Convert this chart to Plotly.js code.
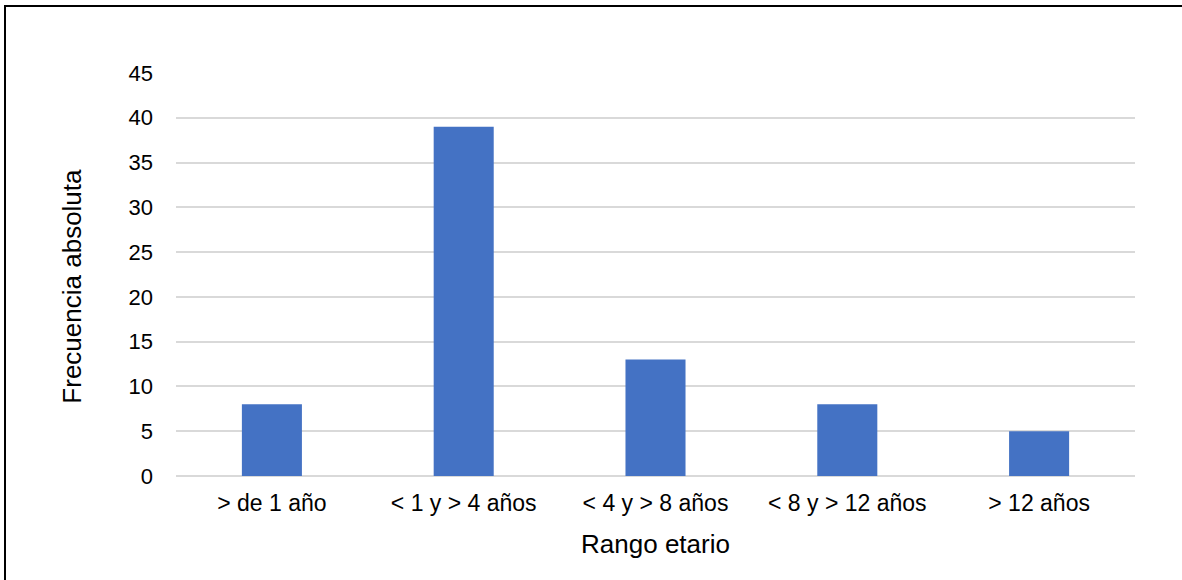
<!DOCTYPE html>
<html>
<head>
<meta charset="utf-8">
<script src="https://cdn.plot.ly/plotly-3.0.1.min.js"></script>
<style>
  html, body { margin: 0; padding: 0; background: #ffffff; }
  #wrap { position: relative; width: 1182px; height: 580px; overflow: hidden; }
  #chart { width: 1182px; height: 580px; }
  #frame { position: absolute; left: 4px; top: 5px; width: 1300px; height: 700px;
           border-top: 2px solid #000; border-left: 2px solid #000; pointer-events: none; }
</style>
</head>
<body>
<div id="wrap">
  <div id="chart"></div>
  <div id="frame"></div>
</div>
<script>
const categories = ["> de 1 año", "< 1 y > 4 años", "< 4 y > 8 años", "< 8 y > 12 años", "> 12 años"];
const frecuencia = [8, 39, 13, 8, 5];
const yTicks = [0, 5, 10, 15, 20, 25, 30, 35, 40, 45];
const yTitle = "Frecuencia absoluta";
const xTitle = "Rango etario";

const fontFam = "Liberation Sans, Arial, sans-serif";

const trace = {
  type: "bar",
  x: categories,
  y: frecuencia,
  marker: { color: "#4472C4", line: { width: 0 } },
  hoverinfo: "x+y"
};

const layout = {
  width: 1182,
  height: 580,
  margin: { l: 176, r: 47, t: 73, b: 104 },
  paper_bgcolor: "#ffffff",
  plot_bgcolor: "#ffffff",
  bargap: 0.687,
  showlegend: false,
  font: { family: fontFam, color: "#000000", size: 22 },
  xaxis: {
    type: "category",
    showgrid: false,
    showline: false,
    ticks: "",
    tickfont: { family: fontFam, size: 23, color: "#000" },
    ticklabelstandoff: 11,
    title: { text: xTitle, font: { family: fontFam, size: 26, color: "#000" }, standoff: 19 }
  },
  yaxis: {
    range: [0, 45],
    tickvals: yTicks,
    ticktext: yTicks.map(String),
    showgrid: true,
    gridcolor: "#d9d9d9",
    gridwidth: 1.5,
    zeroline: true,
    zerolinecolor: "#d9d9d9",
    zerolinewidth: 1.5,
    showline: false,
    ticks: "",
    ticklabelstandoff: 22,
    tickfont: { family: fontFam, size: 22, color: "#000" }
  },
  annotations: [{
    text: yTitle,
    textangle: -90,
    xref: "paper", yref: "paper",
    x: -0.1084, y: 0.470,
    xanchor: "center", yanchor: "middle",
    showarrow: false,
    font: { family: fontFam, size: 26, color: "#000" }
  }]
};

Plotly.newPlot("chart", [trace], layout, { displayModeBar: false, responsive: false });
</script>
</body>
</html>
